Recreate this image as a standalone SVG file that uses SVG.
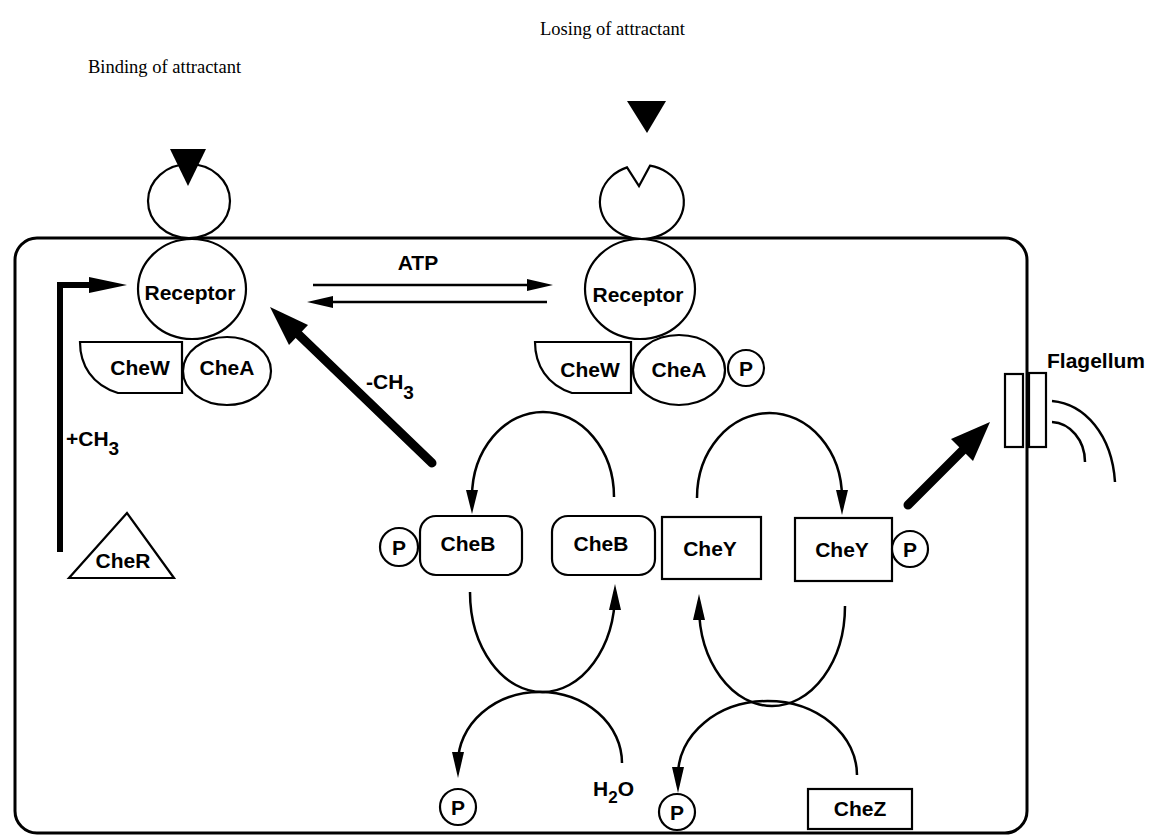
<svg xmlns="http://www.w3.org/2000/svg" width="1155" height="836" viewBox="0 0 1155 836">
<defs>
<style>
.s{fill:#fff;stroke:#000;stroke-width:2.2}
.ln{fill:none;stroke:#000;stroke-width:2.5}
.k{fill:#000;stroke:none}
.t{font-family:"Liberation Sans",Arial,sans-serif;font-weight:bold;font-size:21px;fill:#000;text-anchor:middle}
.tl{font-family:"Liberation Sans",Arial,sans-serif;font-weight:bold;font-size:21px;fill:#000}
.h{font-family:"Liberation Serif","Times New Roman",serif;font-size:18.5px;fill:#000}
</style>
</defs>
<rect width="1155" height="836" fill="#fff"/>

<g id="cell">
<rect x="15" y="238" width="1012" height="595" rx="22" ry="22" fill="none" stroke="#000" stroke-width="3"/>
</g>

<g id="titles">
<text class="h" x="88" y="73">Binding of attractant</text>
<text class="h" x="540" y="35">Losing of attractant</text>
</g>

<g id="attractant-left">
<ellipse class="s" cx="189" cy="201" rx="41" ry="37"/>
<polygon class="k" points="170,149 206,149 188,186"/>
</g>

<g id="attractant-right">
<path class="s" d="M627,167.4 L639,186 L650,165.7 A42,37 0 1 1 627,167.4 Z"/>
<polygon class="k" points="627,101 666,101 647,133"/>
</g>

<g id="receptor-left">
<ellipse class="s" cx="192" cy="289" rx="54" ry="50"/>
<text class="t" x="190" y="300">Receptor</text>
</g>

<g id="receptor-right">
<ellipse class="s" cx="640" cy="289" rx="55" ry="50"/>
<text class="t" x="638" y="302">Receptor</text>
</g>

<g id="chew-left">
<path class="s" d="M80,342 C80,365 92,385 118,393 L182,393 L182,342 Z"/>
<text class="t" x="140" y="375">CheW</text>
</g>
<g id="chea-left">
<ellipse class="s" cx="227" cy="371" rx="44" ry="34"/>
<text class="t" x="227" y="375">CheA</text>
</g>

<g id="chew-right">
<path class="s" d="M535,342 C535,365 547,385 572,393 L631,393 L631,342 Z"/>
<text class="t" x="590" y="377">CheW</text>
</g>
<g id="chea-right">
<ellipse class="s" cx="679" cy="370" rx="46" ry="35"/>
<text class="t" x="679" y="377">CheA</text>
</g>
<g id="p-chea">
<circle class="s" cx="746" cy="368" r="18"/>
<text class="t" x="746" y="376">P</text>
</g>

<g id="cher">
<polygon class="s" points="127,513 69,578 174,578"/>
<text class="t" x="123" y="568">CheR</text>
</g>

<g id="p-cheb">
<circle class="s" cx="399" cy="547" r="19"/>
<text class="t" x="399" y="555">P</text>
</g>
<g id="cheb-p">
<rect class="s" x="420" y="516" width="102" height="59" rx="16"/>
<text class="t" x="468" y="551">CheB</text>
</g>
<g id="cheb">
<rect class="s" x="552" y="516" width="103" height="59" rx="16"/>
<text class="t" x="601" y="551">CheB</text>
</g>
<g id="chey">
<rect class="s" x="662" y="517" width="99" height="62"/>
<text class="t" x="710" y="556">CheY</text>
</g>
<g id="chey-p">
<rect class="s" x="795" y="518" width="97" height="63"/>
<text class="t" x="842" y="557">CheY</text>
</g>
<g id="p-chey">
<circle class="s" cx="910" cy="549" r="18"/>
<text class="t" x="910" y="557">P</text>
</g>

<g id="p-low-left">
<circle class="s" cx="458" cy="807" r="18"/>
<text class="t" x="458" y="815">P</text>
</g>
<g id="h2o">
<text class="tl" x="593" y="796" font-size="19">H<tspan font-size="17" dy="7">2</tspan><tspan dy="-7">O</tspan></text>
</g>
<g id="p-low-right">
<circle class="s" cx="677" cy="812" r="18"/>
<text class="t" x="677" y="820">P</text>
</g>
<g id="chez">
<rect class="s" x="808" y="789" width="104" height="40"/>
<text class="t" x="860" y="816" font-size="19">CheZ</text>
</g>

<g id="flagellum">
<rect class="s" x="1005" y="374" width="18" height="73"/>
<rect class="s" x="1029" y="373" width="17" height="74"/>
<path class="ln" stroke-width="2" d="M1052,401 C1085,404 1112,435 1115,482"/>
<path class="ln" stroke-width="2" d="M1052,422 C1070,423 1085,440 1085,462"/>
<text class="tl" x="1047" y="368">Flagellum</text>
</g>

<g id="connectors">
<!-- ATP equilibrium arrows -->
<line class="ln" x1="313" y1="285" x2="530" y2="285"/>
<polygon class="k" points="527,279 553,285 527,291"/>
<line class="ln" x1="547" y1="302" x2="330" y2="302"/>
<polygon class="k" points="333,296 307,302 333,308"/>
<text class="t" x="418" y="270" font-size="20">ATP</text>

<!-- +CH3 bent arrow -->
<path d="M60,552 L60,285 L94,285" fill="none" stroke="#000" stroke-width="6"/>
<polygon class="k" points="89,277 127,285 89,293"/>
<text class="tl" x="66" y="446">+CH<tspan font-size="19" dy="9">3</tspan></text>

<!-- -CH3 thick arrow -->
<line x1="432" y1="463" x2="297" y2="333" stroke="#000" stroke-width="9" stroke-linecap="round"/>
<polygon class="k" points="270,307 308,325 289,345"/>
<text class="tl" x="366" y="389">-CH<tspan font-size="19" dy="10">3</tspan></text>

<!-- to flagellum -->
<line x1="908" y1="505" x2="964" y2="449" stroke="#000" stroke-width="9" stroke-linecap="round"/>
<polygon class="k" points="990,422 973,461 951,439"/>

<!-- CheB top arc -->
<path class="ln" d="M614,497 A71,85 0 0 0 472,497"/>
<polygon class="k" points="466,490 478,490 472,514"/>

<!-- CheY top arc -->
<path class="ln" d="M697,498 A72.5,85 0 0 1 842,498"/>
<polygon class="k" points="836,490 848,490 842,515"/>

<!-- CheB lower crossing arcs -->
<path class="ln" d="M470,592 A72.5,100 0 0 0 615,592 L615,608"/>
<polygon class="k" points="609,610 621,610 615,584"/>
<path class="ln" d="M622,763 A82,71 0 0 0 458,763"/>
<polygon class="k" points="452,752 464,752 458,778"/>

<!-- CheY lower crossing arcs -->
<path class="ln" d="M845,606 A73,100 0 0 1 699,606"/>
<polygon class="k" points="693,620 705,620 699,594"/>
<path class="ln" d="M857,775 A89.5,74 0 0 0 678,775"/>
<polygon class="k" points="672,767 684,767 678,793"/>
</g>
</svg>
